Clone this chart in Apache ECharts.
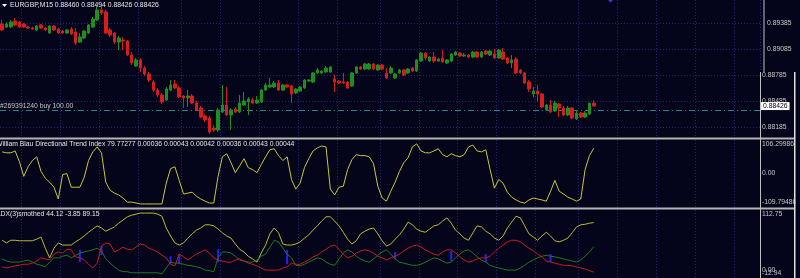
<!DOCTYPE html>
<html><head><meta charset="utf-8">
<script src="https://cdn.jsdelivr.net/npm/echarts@6/dist/echarts.min.js"></script>
<style>html,body{margin:0;padding:0;background:#04041a;overflow:hidden}#c{width:800px;height:278px}</style>
</head><body><div id="c"></div>
<script>
const headerText = 'EURGBP,M15 0.88460 0.88494 0.88426 0.88426';
const wbTitle = 'William Blau Directional Trend Index 79.77277 0.00036 0.00043 0.00042 0.00036 0.00043 0.00044';
const dxTitle = 'ADX(3)smothed 44.12 -3.85 89.15';

const barOpen = [0.89373,0.89338,0.89338,0.89408,0.89396,0.89373,0.89338,0.89327,0.89304,0.89362,
0.89327,0.89269,0.89350,0.89315,0.89292,0.89269,0.89315,0.89281,0.89165,0.89211,
0.89269,0.89338,0.89419,0.89535,0.89512,0.89304,0.89269,0.89165,0.89188,0.89177,
0.89015,0.88888,0.88958,0.88865,0.88796,0.88704,0.88611,0.88554,0.88496,0.88611,
0.88681,0.88635,0.88542,0.88519,0.88542,0.88461,0.88404,0.88311,0.88288,0.88173,
0.88150,0.88358,0.88438,0.88323,0.88392,0.88358,0.88438,0.88473,0.88496,0.88461,
0.88473,0.88611,0.88646,0.88646,0.88692,0.88611,0.88669,0.88658,0.88577,0.88600,
0.88635,0.88715,0.88704,0.88808,0.88808,0.88819,0.88819,0.88738,0.88715,0.88704,
0.88704,0.88658,0.88808,0.88877,0.88854,0.88854,0.88911,0.88842,0.88900,0.88808,
0.88808,0.88750,0.88808,0.88842,0.88808,0.88865,0.88831,0.88946,0.89038,0.88946,
0.88992,0.88946,0.88981,0.88923,0.88946,0.89015,0.89038,0.89004,0.89015,0.88992,
0.89050,0.88992,0.89061,0.89015,0.89027,0.88981,0.89050,0.88981,0.88923,0.88969,
0.88842,0.88808,0.88704,0.88565,0.88600,0.88565,0.88381,0.88438,0.88369,0.88450,
0.88404,0.88323,0.88404,0.88277,0.88346,0.88300,0.88334,0.88460];
const barClose = [0.89304,0.89373,0.89396,0.89362,0.89338,0.89338,0.89327,0.89315,0.89350,0.89327,
0.89304,0.89350,0.89304,0.89269,0.89269,0.89304,0.89258,0.89154,0.89223,0.89292,
0.89362,0.89431,0.89535,0.89500,0.89269,0.89246,0.89165,0.89211,0.89177,0.89015,
0.88923,0.88958,0.88865,0.88796,0.88727,0.88611,0.88554,0.88473,0.88623,0.88669,
0.88635,0.88531,0.88519,0.88542,0.88461,0.88381,0.88300,0.88265,0.88127,0.88150,
0.88381,0.88438,0.88323,0.88381,0.88358,0.88461,0.88485,0.88508,0.88461,0.88496,
0.88611,0.88669,0.88669,0.88692,0.88611,0.88669,0.88646,0.88565,0.88623,0.88646,
0.88727,0.88727,0.88808,0.88842,0.88831,0.88865,0.88877,0.88704,0.88692,0.88692,
0.88635,0.88808,0.88877,0.88854,0.88911,0.88911,0.88854,0.88900,0.88854,0.88750,
0.88865,0.88796,0.88842,0.88785,0.88854,0.88831,0.88958,0.89038,0.88981,0.88992,
0.88946,0.88969,0.88935,0.88958,0.89027,0.89050,0.89004,0.89015,0.88992,0.89050,
0.88992,0.89050,0.89027,0.89061,0.88981,0.89073,0.88969,0.88923,0.88958,0.88808,
0.88808,0.88692,0.88623,0.88600,0.88565,0.88415,0.88438,0.88358,0.88461,0.88404,
0.88323,0.88404,0.88288,0.88346,0.88300,0.88346,0.88460,0.88426];
const barLow = [0.89292,0.89327,0.89327,0.89350,0.89327,0.89327,0.89315,0.89304,0.89292,0.89315,
0.89292,0.89258,0.89292,0.89258,0.89258,0.89258,0.89246,0.89131,0.89154,0.89200,
0.89258,0.89327,0.89408,0.89477,0.89258,0.89223,0.89142,0.89073,0.89073,0.89004,
0.88900,0.88877,0.88819,0.88773,0.88704,0.88588,0.88531,0.88450,0.88485,0.88600,
0.88623,0.88519,0.88404,0.88415,0.88450,0.88369,0.88288,0.88242,0.88104,0.88127,
0.88127,0.88346,0.88311,0.88150,0.88346,0.88346,0.88427,0.88323,0.88450,0.88450,
0.88461,0.88600,0.88635,0.88635,0.88600,0.88600,0.88635,0.88461,0.88565,0.88588,
0.88623,0.88704,0.88692,0.88796,0.88796,0.88808,0.88808,0.88588,0.88681,0.88681,
0.88623,0.88646,0.88796,0.88842,0.88842,0.88842,0.88842,0.88831,0.88842,0.88738,
0.88796,0.88738,0.88796,0.88773,0.88796,0.88819,0.88819,0.88935,0.88958,0.88935,
0.88923,0.88935,0.88923,0.88911,0.88935,0.89004,0.88992,0.88992,0.88981,0.88981,
0.88981,0.88981,0.89015,0.89004,0.88969,0.88969,0.88958,0.88911,0.88865,0.88796,
0.88796,0.88681,0.88588,0.88531,0.88473,0.88404,0.88369,0.88346,0.88358,0.88300,
0.88311,0.88311,0.88277,0.88265,0.88288,0.88288,0.88323,0.88426];
const barHigh = [0.89419,0.89396,0.89419,0.89442,0.89408,0.89385,0.89350,0.89338,0.89362,0.89373,
0.89338,0.89362,0.89362,0.89327,0.89304,0.89315,0.89338,0.89327,0.89269,0.89304,
0.89373,0.89454,0.89581,0.89592,0.89535,0.89327,0.89281,0.89235,0.89223,0.89188,
0.89050,0.88981,0.88981,0.88888,0.88819,0.88727,0.88635,0.88577,0.88646,0.88727,
0.88727,0.88658,0.88554,0.88611,0.88565,0.88485,0.88427,0.88334,0.88311,0.88208,
0.88404,0.88669,0.88646,0.88404,0.88415,0.88554,0.88588,0.88531,0.88519,0.88542,
0.88623,0.88692,0.88750,0.88715,0.88727,0.88681,0.88681,0.88669,0.88635,0.88658,
0.88738,0.88738,0.88819,0.88865,0.88842,0.88888,0.88888,0.88785,0.88727,0.88808,
0.88715,0.88819,0.88888,0.88888,0.88923,0.88923,0.88923,0.88911,0.88911,0.88865,
0.88888,0.88808,0.88854,0.88854,0.88865,0.88877,0.88969,0.89050,0.89050,0.89004,
0.89050,0.88981,0.89073,0.88969,0.89038,0.89061,0.89050,0.89038,0.89027,0.89061,
0.89061,0.89061,0.89073,0.89073,0.89085,0.89085,0.89096,0.88992,0.89015,0.88992,
0.88854,0.88819,0.88727,0.88646,0.88669,0.88577,0.88450,0.88496,0.88485,0.88461,
0.88427,0.88427,0.88415,0.88381,0.88358,0.88369,0.88461,0.88494];

const priceTicks = [0.89385, 0.89085, 0.88785, 0.88485, 0.88185];
const lastPrice = 0.88426;
const orderPrice = 0.88381;
const orderLabel = '#269391240 buy 100.00';

const wbdti = [68,65,65,71,36,-11,20,40,52,5,-17,-30,-46,-84,-5,-2,-46,-46,-46,-14,
40,68,84,65,-30,-56,-65,-71,-81,-94,-94,-97,-100,-100,-100,-100,-100,-100,-33,14,
20,-24,-68,-65,-62,-75,-84,-91,-97,-97,-11,52,62,33,1,23,46,17,11,1,
27,52,75,78,56,40,52,-21,-52,-33,17,46,71,81,87,84,-52,-71,-46,-43,
11,43,59,56,56,52,30,-43,-81,-91,-59,-30,5,33,49,84,94,71,65,65,
71,78,59,52,62,56,52,59,84,90,71,68,75,11,-49,-21,-33,-62,-78,-87,
-94,-97,-87,-81,-84,-87,-91,-59,-24,-59,-68,-78,-84,-91,-84,11,56,79.77];
const wbdtiTicks = [106.29986, 0, -109.79486];

const dxYellow = [56,51,56,56,55,55,55,55,58,62,41,23,41,51,47,47,47,53,58,64,
71,77,83,79,73,77,81,88,94,100,103,105,107,107,107,107,105,101,79,64,
51,47,51,60,68,75,79,85,85,83,77,70,64,60,49,39,34,26,21,15,
32,47,68,79,70,49,47,47,49,53,60,66,75,83,92,100,100,92,83,71,
58,49,55,68,73,77,79,68,55,45,49,58,66,77,90,85,77,73,71,77,
83,85,92,98,88,75,68,60,56,70,83,81,73,68,60,56,64,79,90,101,
98,83,68,62,56,64,71,64,55,53,56,60,70,81,85,86,88,89.15];
const dxGreen = [21,17,15,15,15,17,19,15,11,9,6,15,23,23,26,28,23,28,32,34,
36,38,41,36,21,13,6,0,-3,-3,-5,-5,-5,-5,-5,-5,-5,-7,4,15,
13,13,11,9,8,6,4,0,-1,-3,23,34,34,32,26,19,17,15,15,19,
26,30,43,56,53,41,30,23,9,8,11,15,19,23,21,15,11,9,21,32,
38,34,26,21,17,15,21,28,34,38,30,21,15,13,11,9,9,11,15,19,
23,21,17,13,15,23,30,36,38,32,25,19,15,9,6,4,2,0,0,0,
4,9,15,19,23,26,28,26,25,23,21,19,17,15,19,26,34,44.12];
const dxRed = [6,4,6,8,9,11,11,13,17,23,21,19,30,34,32,39,38,25,23,19,
11,4,13,45,51,49,34,38,43,39,38,43,49,47,41,38,34,28,23,11,
8,30,25,19,25,30,34,38,32,23,19,17,15,15,19,21,17,13,11,8,
4,0,0,0,0,4,6,13,11,11,15,19,25,28,34,39,45,47,39,30,
23,26,32,36,38,36,32,26,23,19,23,26,30,36,41,45,47,43,38,34,
30,28,34,38,38,32,25,19,15,17,21,23,23,26,34,41,47,53,56,56,
53,47,41,36,30,25,17,15,13,11,9,9,8,6,4,2,-1,-3.85];
const dxTicks = [112.75, 0, -12.94];
const crossBars = [[18,15,38],[23,28,45],[39,13,26],[41,11,30],[50,15,39],[66,11,38],[91,20,34],[104,17,36],[112,15,30],[127,15,30]];

const totalSlots = 176;
const categories = Array.from({length: totalSlots}, (_, i) => 'b' + i);

const BG = '#04041a', GRID = '#25257a', AXT = '#c8c8c8', FONT = 'Liberation Sans';
const FS = 6.8;
const FONTSTR = FS + 'px "' + FONT + '"';

function gridLineIdx(index) {
  const k = Math.round((index - 4.86) / 9.194);
  return Math.round(4.86 + 9.194 * k) === index;
}
function xAx(gi) {
  return {
    type: 'category', gridIndex: gi, data: categories, boundaryGap: true,
    axisLine: {show: false}, axisTick: {show: false}, axisLabel: {show: false},
    splitLine: {show: true, interval: gridLineIdx, lineStyle: {color: GRID, type: [1, 2], width: 1}}
  };
}
const rs = (pad) => ({fontSize: FS, color: AXT, fontFamily: FONT, padding: pad});
const labelBase = {margin: 2, fontSize: FS, color: AXT, fontFamily: FONT, hideOverlap: false, showMinLabel: true, showMaxLabel: true};
const fmtSub = (digits) => v => v === 0 ? '0.00' : (v > 0 ? '{t|' + v.toFixed(digits) + '}' : '{b|' + v.toFixed(digits) + '}');

const chart = echarts.init(document.getElementById('c'), null, {renderer: 'canvas'});
chart.setOption({
  animation: false,
  backgroundColor: BG,
  grid: [
    {left: 0, top: 0, width: 760, height: 137},
    {left: 0, top: 140, width: 760, height: 67},
    {left: 0, top: 210, width: 760, height: 67}
  ],
  xAxis: [xAx(0), xAx(1), xAx(2)],
  yAxis: [
    {type: 'value', gridIndex: 0, position: 'right', min: 0.88069, max: 0.8965,
      axisLine: {show: false}, axisTick: {show: false}, splitLine: {show: false},
      axisLabel: Object.assign({}, labelBase, {customValues: priceTicks,
        formatter: v => v > 0.8895 ? '{hi|' + v.toFixed(5) + '}' : v.toFixed(5),
        rich: {hi: rs([0, 0, 0, 5])}})},
    {type: 'value', gridIndex: 1, position: 'right', min: wbdtiTicks[2], max: wbdtiTicks[0],
      axisLine: {show: false}, axisTick: {show: false}, splitLine: {show: false},
      axisLabel: Object.assign({}, labelBase, {customValues: wbdtiTicks, formatter: fmtSub(5),
        rich: {t: rs([8, 0, 0, 0]), b: rs([0, 0, 9, 0])}})},
    {type: 'value', gridIndex: 2, position: 'right', min: dxTicks[2], max: dxTicks[0],
      axisLine: {show: false}, axisTick: {show: false}, splitLine: {show: false},
      axisLabel: Object.assign({}, labelBase, {customValues: [dxTicks[0], dxTicks[2]], formatter: fmtSub(2),
        rich: {t: rs([8, 0, 0, 0]), b: rs([0, 0, 8, 0])}})},
    {type: 'value', gridIndex: 2, position: 'right', min: dxTicks[2], max: dxTicks[0],
      axisLine: {show: false}, axisTick: {show: false}, splitLine: {show: false},
      axisLabel: Object.assign({}, labelBase, {customValues: [dxTicks[1]], formatter: fmtSub(2)})}
  ],
  series: [
    {type: 'custom', xAxisIndex: 0, yAxisIndex: 0, z: 1, silent: true,
      data: priceTicks.map(v => [0, v]), encode: {x: 0, y: 1},
      renderItem: (p, api) => {
        const cs = p.coordSys;
        const y = Math.round(api.coord([0, api.value(1)])[1]) + 0.5;
        return {type: 'line', shape: {x1: cs.x, y1: y, x2: cs.x + cs.width, y2: y},
          style: {stroke: GRID, lineDash: [1, 2], lineWidth: 1}};
      }},
    {type: 'custom', xAxisIndex: 0, yAxisIndex: 0, z: 2, silent: true,
      data: [[0, orderPrice]], encode: {x: 0, y: 1},
      renderItem: (p, api) => {
        const cs = p.coordSys;
        const y = Math.round(api.coord([0, api.value(1)])[1]) + 0.5;
        return {type: 'group', children: [
          {type: 'line', shape: {x1: cs.x, y1: y, x2: cs.x + cs.width, y2: y},
            style: {stroke: '#1f8a8a', lineDash: [6, 3, 1, 3], lineWidth: 1}},
          {type: 'text', style: {x: cs.x, y: y - 1, text: orderLabel, fill: AXT, font: FONTSTR, verticalAlign: 'bottom', align: 'left'}}
        ]};
      }},
    {type: 'candlestick', xAxisIndex: 0, yAxisIndex: 0, barWidth: 3, z: 3,
      data: barOpen.map((o, i) => [o, barClose[i], barLow[i], barHigh[i]]),
      itemStyle: {color: '#1c8f1c', color0: '#d81c1c', borderColor: '#1c8f1c', borderColor0: '#d81c1c', borderWidth: 1}},
    {type: 'custom', xAxisIndex: 0, yAxisIndex: 0, z: 5, silent: true,
      data: [[0, lastPrice]], encode: {x: 0, y: 1},
      renderItem: (p, api) => {
        const cs = p.coordSys;
        const y = api.coord([0, api.value(1)])[1];
        return {type: 'text', style: {x: cs.x + cs.width + 1, y: y, text: api.value(1).toFixed(5),
          fill: '#000', backgroundColor: '#ffffff', padding: [1, 2, 0, 2], font: FONTSTR, verticalAlign: 'middle', align: 'left'}};
      }},
    {type: 'line', xAxisIndex: 1, yAxisIndex: 1, data: wbdti, showSymbol: false,
      lineStyle: {color: '#c8c832', width: 1}},
    {type: 'line', xAxisIndex: 2, yAxisIndex: 2, data: dxYellow, showSymbol: false,
      lineStyle: {color: '#bcbc2a', width: 1}},
    {type: 'line', xAxisIndex: 2, yAxisIndex: 2, data: dxGreen, showSymbol: false,
      lineStyle: {color: '#1e7a1e', width: 1}},
    {type: 'line', xAxisIndex: 2, yAxisIndex: 2, data: dxRed, showSymbol: false,
      lineStyle: {color: '#c81c1c', width: 1}},
    {type: 'custom', xAxisIndex: 2, yAxisIndex: 2, data: crossBars, encode: {x: 0, y: [1, 2]},
      renderItem: (params, api) => {
        const a = api.coord([api.value(0), api.value(1)]);
        const b = api.coord([api.value(0), api.value(2)]);
        return {type: 'line', shape: {x1: a[0], y1: a[1], x2: b[0], y2: b[1]}, style: {stroke: '#2222ff', lineWidth: 2}};
      }}
  ],
  graphic: [
    {type: 'rect', z: 100, shape: {x: 0, y: 137.5, width: 794, height: 2}, style: {fill: '#b4b4b4'}},
    {type: 'rect', z: 100, shape: {x: 0, y: 207.5, width: 794, height: 2}, style: {fill: '#b4b4b4'}},
    {type: 'rect', z: 100, shape: {x: 763.5, y: 0, width: 1, height: 72}, style: {fill: '#c0c0c0'}},
    {type: 'rect', z: 100, shape: {x: 760, y: 72, width: 1, height: 206}, style: {fill: '#c0c0c0'}},
    {type: 'rect', z: 100, shape: {x: 794, y: 72, width: 1.5, height: 206}, style: {fill: '#e0e0e0'}},
    {type: 'rect', z: 99, shape: {x: 795.5, y: 72, width: 4.5, height: 206}, style: {fill: BG}},
    {type: 'polygon', z: 100, shape: {points: [[2, 4], [7, 4], [4.5, 7]]}, style: {fill: '#ffffff'}},
    {type: 'polygon', z: 100, shape: {points: [[608, 0], [613, 0], [610.5, 2.5]]}, style: {fill: '#3040e0'}},
    {type: 'text', z: 100, left: 10, top: 2, style: {text: headerText, fill: '#e6e6e6', font: FONTSTR}},
    {type: 'text', z: 100, left: -4, top: 141, style: {text: wbTitle, fill: '#e6e6e6', font: FONTSTR}},
    {type: 'text', z: 100, left: -4, top: 211, style: {text: dxTitle, fill: '#e6e6e6', font: FONTSTR}}
  ]
});
</script></body></html>
